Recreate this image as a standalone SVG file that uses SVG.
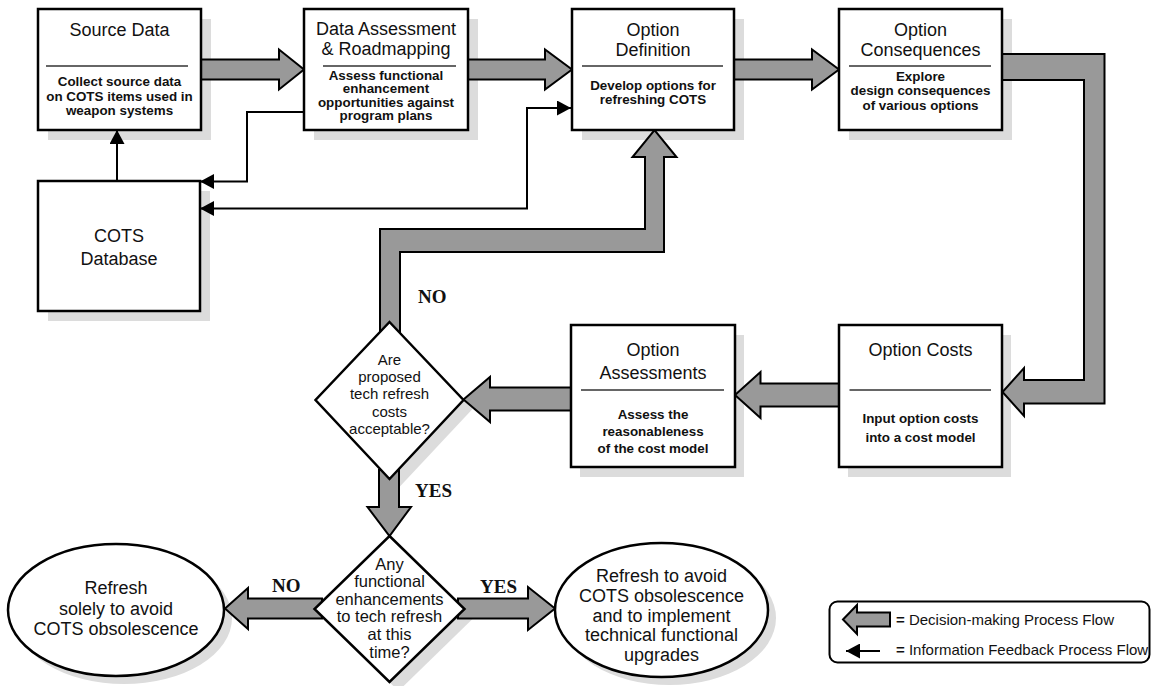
<svg xmlns="http://www.w3.org/2000/svg" width="1152" height="686" viewBox="0 0 1152 686">
  <style>
    .box { fill: #ffffff; stroke: #000000; stroke-width: 2.5; }
    .shadow { fill: #dcdcdc; stroke: none; }
    .rule { stroke: #333333; stroke-width: 1.5; }
    .title { font-family: "Liberation Sans", Arial, sans-serif; font-size: 18px; fill: #111111; text-anchor: middle; }
    .body { font-family: "Liberation Sans", Arial, sans-serif; font-size: 13.4px; font-weight: bold; fill: #111111; text-anchor: middle; }
    .q1 { font-family: "Liberation Sans", Arial, sans-serif; font-size: 15px; fill: #111111; text-anchor: middle; }
    .q2 { font-family: "Liberation Sans", Arial, sans-serif; font-size: 16.5px; fill: #111111; text-anchor: middle; }
    .tag { font-family: "Liberation Serif", "Times New Roman", serif; font-size: 19px; font-weight: bold; fill: #111111; }
    .legend { font-family: "Liberation Sans", Arial, sans-serif; font-size: 15px; fill: #111111; }
    .flow { fill: #999999; stroke: #000000; stroke-width: 2; stroke-linejoin: miter; }
    .info { fill: none; stroke: #000000; stroke-width: 2; }
  </style>
  <defs>
    <marker id="ah" viewBox="0 0 14 15" refX="14" refY="7.5" markerWidth="14" markerHeight="15" orient="auto-start-reverse" markerUnits="userSpaceOnUse">
      <path d="M0,0 L14,7.5 L0,15 z" fill="#000000"/>
    </marker>
  </defs>

  <rect width="1152" height="686" fill="#ffffff"/>

  <!-- drop shadows sit beneath everything else -->
  <g id="shadows">
    <rect class="shadow" x="48" y="19" width="163" height="121"/>
    <rect class="shadow" x="314" y="19" width="164" height="121"/>
    <rect class="shadow" x="582" y="19" width="162" height="121"/>
    <rect class="shadow" x="849" y="19" width="163" height="121"/>
    <rect class="shadow" x="48" y="191" width="162" height="130"/>
    <rect class="shadow" x="580" y="335" width="164" height="142"/>
    <rect class="shadow" x="848" y="335" width="163" height="142"/>
    <polygon class="shadow" points="398.5,331 472.5,409 398.5,488 324.5,409"/>
    <polygon class="shadow" points="398.5,545 473.5,618 398.5,691 323.5,618"/>
    <ellipse class="shadow" cx="124" cy="618" rx="108" ry="66"/>
    <ellipse class="shadow" cx="669.5" cy="618" rx="106.5" ry="67"/>
  </g>

  <g id="connectors">
    <!-- decision-making flow (wide gray arrows) -->
    <polygon class="flow" points="201,59.5 279,59.5 279,49.5 304,69.5 279,89.5 279,79.5 201,79.5"/>
    <polygon class="flow" points="468,59.5 545,59.5 545,49.5 572,69.5 545,89.5 545,79.5 468,79.5"/>
    <polygon class="flow" points="734,59.5 812,59.5 812,49.5 839,69.5 812,89.5 812,79.5 734,79.5"/>
    <polygon class="flow" points="1002,54 1104.5,54 1104.5,403.5 1024,403.5 1024,416 1002.5,392 1024,368 1024,380 1084,380 1084,80 1002,80"/>
    <polygon class="flow" points="839,383.5 760.5,383.5 760.5,372 735,395 760.5,418 760.5,406.5 839,406.5"/>
    <polygon class="flow" points="571,387.5 490,387.5 490,377 463.5,399.5 490,422 490,410.5 571,410.5"/>
    <polygon class="flow" points="380,345 380,229 645,229 645,157 632.5,157 654.5,130 676.5,157 664,157 664,252 400,252 400,345"/>
    <polygon class="flow" points="379,470 379,507 367.5,507 389.5,536 411,507 399,507 399,470"/>
    <polygon class="flow" points="322,598.5 248,598.5 248,588 225,608.5 248,629 248,618.5 322,618.5"/>
    <polygon class="flow" points="458,598.5 528,598.5 528,587 555,608.5 528,630 528,618.5 458,618.5"/>

    <!-- information feedback (thin lines) -->
    <polyline class="info" points="117,181 117,130" marker-end="url(#ah)"/>
    <polyline class="info" points="304,112 247,112 247,181.5 200,181.5" marker-end="url(#ah)"/>
    <polyline class="info" points="571,108 527,108 527,208.5 200,208.5" marker-start="url(#ah)" marker-end="url(#ah)"/>

    <!-- branch labels -->
    <text class="tag" x="418" y="303">NO</text>
    <text class="tag" x="415" y="497">YES</text>
    <text class="tag" x="272" y="592">NO</text>
    <text class="tag" x="480" y="593">YES</text>
  </g>

  <g id="source-data">
    <rect class="box" x="38" y="9" width="163" height="121"/>
    <text class="title" x="119.5" y="36">Source Data</text>
    <line class="rule" x1="46" y1="66" x2="188" y2="66"/>
    <text class="body" x="119.5" y="86">Collect source data</text>
    <text class="body" x="119.5" y="100.5">on COTS items used in</text>
    <text class="body" x="119.5" y="115">weapon systems</text>
  </g>

  <g id="data-assessment">
    <rect class="box" x="304" y="9" width="164" height="121"/>
    <text class="title" x="386" y="35">Data Assessment</text>
    <text class="title" x="386" y="55">&amp; Roadmapping</text>
    <line class="rule" x1="323" y1="66" x2="456" y2="66"/>
    <text class="body" x="386" y="79.5">Assess functional</text>
    <text class="body" x="386" y="93">enhancement</text>
    <text class="body" x="386" y="106.5">opportunities against</text>
    <text class="body" x="386" y="120">program plans</text>
  </g>

  <g id="option-definition">
    <rect class="box" x="572" y="9" width="162" height="121"/>
    <text class="title" x="653" y="36">Option</text>
    <text class="title" x="653" y="56">Definition</text>
    <line class="rule" x1="582" y1="66" x2="723" y2="66"/>
    <text class="body" x="653" y="90">Develop options for</text>
    <text class="body" x="653" y="104">refreshing COTS</text>
  </g>

  <g id="option-consequences">
    <rect class="box" x="839" y="9" width="163" height="121"/>
    <text class="title" x="920.5" y="36">Option</text>
    <text class="title" x="920.5" y="56">Consequences</text>
    <line class="rule" x1="849" y1="66" x2="991" y2="66"/>
    <text class="body" x="920.5" y="80.5">Explore</text>
    <text class="body" x="920.5" y="95">design consequences</text>
    <text class="body" x="920.5" y="109.5">of various options</text>
  </g>

  <g id="cots-database">
    <rect class="box" x="38" y="181" width="162" height="130"/>
    <text class="title" x="119" y="241.5">COTS</text>
    <text class="title" x="119" y="265">Database</text>
  </g>

  <g id="option-assessments">
    <rect class="box" x="571" y="325" width="164" height="142"/>
    <text class="title" x="653" y="355.5">Option</text>
    <text class="title" x="653" y="379">Assessments</text>
    <line class="rule" x1="581" y1="390" x2="724" y2="390"/>
    <text class="body" x="653" y="419">Assess the</text>
    <text class="body" x="653" y="436">reasonableness</text>
    <text class="body" x="653" y="452.5">of the cost model</text>
  </g>

  <g id="option-costs">
    <rect class="box" x="839" y="325" width="163" height="142"/>
    <text class="title" x="920.5" y="355.5">Option Costs</text>
    <line class="rule" x1="849.5" y1="390" x2="991" y2="390"/>
    <text class="body" x="920.5" y="422.5">Input option costs</text>
    <text class="body" x="920.5" y="441.5">into a cost model</text>
  </g>

  <g id="costs-acceptable">
    <polygon class="box" points="389.5,322 463.5,400 389.5,479 315.5,400"/>
    <text class="q1" x="389.5" y="364.5">Are</text>
    <text class="q1" x="389.5" y="382">proposed</text>
    <text class="q1" x="389.5" y="399">tech refresh</text>
    <text class="q1" x="389.5" y="416.5">costs</text>
    <text class="q1" x="389.5" y="433.5">acceptable?</text>
  </g>

  <g id="enhancements">
    <polygon class="box" points="389.5,536 464.5,609 389.5,682 314.5,609"/>
    <text class="q2" x="389.5" y="569.5">Any</text>
    <text class="q2" x="389.5" y="587">functional</text>
    <text class="q2" x="389.5" y="604.5">enhancements</text>
    <text class="q2" x="389.5" y="622">to tech refresh</text>
    <text class="q2" x="389.5" y="640">at this</text>
    <text class="q2" x="389.5" y="658">time?</text>
  </g>

  <g id="refresh-only">
    <ellipse class="box" cx="116" cy="610" rx="108" ry="66"/>
    <text class="title" x="116" y="594">Refresh</text>
    <text class="title" x="116" y="614.5">solely to avoid</text>
    <text class="title" x="116" y="635">COTS obsolescence</text>
  </g>

  <g id="refresh-upgrade">
    <ellipse class="box" cx="661.5" cy="610" rx="106.5" ry="67"/>
    <text class="title" x="661.5" y="581.5">Refresh to avoid</text>
    <text class="title" x="661.5" y="602">COTS obsolescence</text>
    <text class="title" x="661.5" y="621.5">and to implement</text>
    <text class="title" x="661.5" y="641">technical functional</text>
    <text class="title" x="661.5" y="660.5">upgrades</text>
  </g>

  <g id="legend">
    <rect x="829.5" y="601.5" width="320" height="61" rx="8" ry="8" fill="#ffffff" stroke="#000000" stroke-width="2"/>
    <polygon class="flow" points="843,619.5 857,605 857,612.5 890,612.5 890,626.5 857,626.5 857,634"/>
    <text class="legend" x="896" y="625"><tspan font-weight="bold">=</tspan> Decision-making Process Flow</text>
    <line class="info" x1="880" y1="651" x2="846" y2="651" marker-end="url(#ah)"/>
    <text class="legend" x="896" y="655"><tspan font-weight="bold">=</tspan> Information Feedback Process Flow</text>
  </g>
</svg>
